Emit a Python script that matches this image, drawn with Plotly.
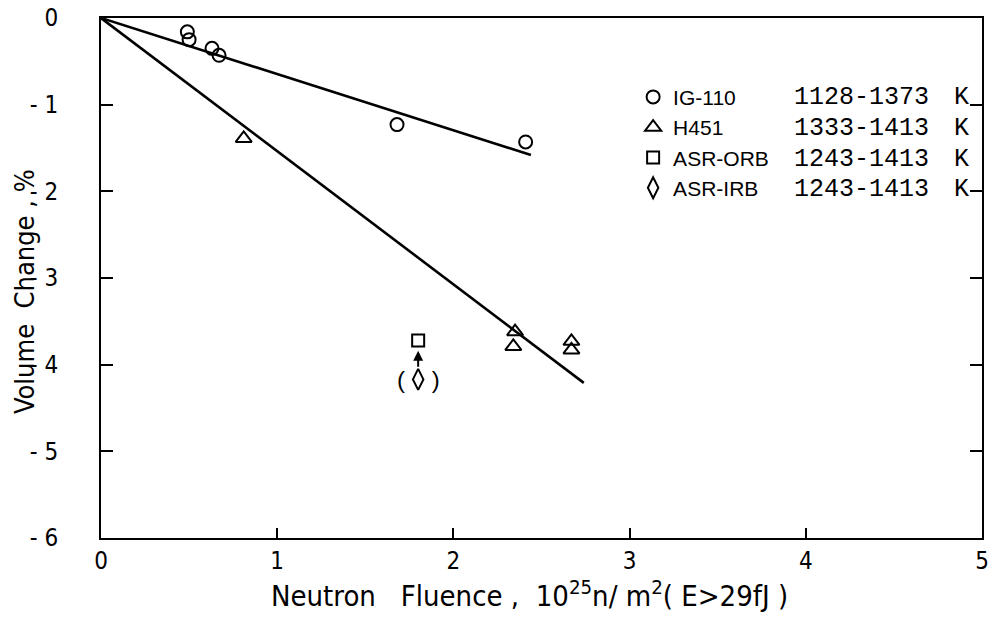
import plotly.graph_objects as go

# ---- data ----
ig_x = [0.49, 0.50, 0.63, 0.67, 1.68, 2.41]
ig_y = [-0.16, -0.25, -0.35, -0.43, -1.23, -1.43]
h_x = [0.81, 2.35, 2.34, 2.67, 2.67]
h_y = [-1.39, -3.62, -3.79, -3.73, -3.83]
orb_x = [1.80]
orb_y = [-3.72]
irb_x = [1.80]
irb_y = [-4.17]
ig_fit_x = [0.0, 2.44]
ig_fit_y = [0.0, -1.58]
h_fit_x = [0.0, 2.74]
h_fit_y = [0.0, -4.21]

series_names = ["IG-110", "H451", "ASR-ORB", "ASR-IRB"]
temp_ranges = ["1128-1373", "1333-1413", "1243-1413", "1243-1413"]

x_ticks = [0, 1, 2, 3, 4, 5]
x_ticktext = ["0", "1", "2", "3", "4", "5"]
y_ticks = [0, -1, -2, -3, -4, -5, -6]
y_ticktext = ["0", "- 1", "- 2", "- 3", "- 4", "- 5", "- 6"]

x_title = "Neutron&nbsp;&nbsp;&nbsp;Fluence&nbsp;,&nbsp;&nbsp;10<sup>25</sup>n/&nbsp;m<sup>2</sup>(&nbsp;E>29fJ&nbsp;)"
y_title = "Volume&nbsp;&nbsp;Change&nbsp;,&nbsp;%"

NARROW = "DejaVu Sans Condensed, Liberation Sans Narrow, DejaVu Sans, sans-serif"
SANS = "Liberation Sans, Arial, sans-serif"
MONO = "Liberation Mono, Courier New, monospace"

fig = go.Figure()

# fit lines
fig.add_trace(go.Scatter(x=ig_fit_x, y=ig_fit_y, mode="lines",
                         line=dict(color="black", width=2.6), showlegend=False))
fig.add_trace(go.Scatter(x=h_fit_x, y=h_fit_y, mode="lines",
                         line=dict(color="black", width=2.6), showlegend=False))

mk_line = dict(color="black", width=2)
fig.add_trace(go.Scatter(x=ig_x, y=ig_y, mode="markers", name=series_names[0],
                         legendgroup="a",
                         marker=dict(symbol="circle-open", size=13, color="black", line=mk_line)))
fig.add_trace(go.Scatter(x=h_x, y=h_y, mode="markers", name=series_names[1],
                         legendgroup="b",
                         marker=dict(symbol="triangle-up-open", size=14, color="black", line=mk_line)))
fig.add_trace(go.Scatter(x=orb_x, y=orb_y, mode="markers", name=series_names[2],
                         legendgroup="c",
                         marker=dict(symbol="square-open", size=12, color="black", line=mk_line)))
fig.add_trace(go.Scatter(x=irb_x, y=irb_y, mode="markers", name=series_names[3],
                         legendgroup="d",
                         marker=dict(symbol="diamond-tall-open", size=15, color="black", line=mk_line)))

annotations = []
# arrow from diamond to square
annotations.append(dict(x=irb_x[0], y=orb_y[0] - 0.12, ax=irb_x[0], ay=irb_y[0] + 0.13,
                        xref="x", yref="y", axref="x", ayref="y", text="",
                        showarrow=True, arrowhead=2, arrowsize=1, arrowwidth=2,
                        arrowcolor="black"))
# parentheses around the diamond
annotations.append(dict(x=irb_x[0], y=irb_y[0], xref="x", yref="y",
                        text="(&nbsp;&nbsp;&nbsp;&nbsp;)", showarrow=False,
                        font=dict(family=SANS, size=24, color="black")))

# temperature column of legend
row_y = [-0.92, -1.27, -1.63, -1.98]
for t, yy in zip(temp_ranges, row_y):
    annotations.append(dict(x=3.92, y=yy, xref="x", yref="y", text=t, showarrow=False,
                            xanchor="left", yanchor="middle",
                            font=dict(family=MONO, size=25, color="black")))
    annotations.append(dict(x=4.83, y=yy, xref="x", yref="y", text="K", showarrow=False,
                            xanchor="left", yanchor="middle",
                            font=dict(family=MONO, size=25, color="black")))

# axis titles
annotations.append(dict(x=0.486, y=-0.108, xref="paper", yref="paper", text=x_title,
                        showarrow=False, xanchor="center", yanchor="middle",
                        font=dict(family=NARROW, size=29, color="black")))
annotations.append(dict(x=-0.0874, y=0.473, xref="paper", yref="paper", text=y_title,
                        showarrow=False, xanchor="center", yanchor="middle", textangle=-90,
                        font=dict(family=NARROW, size=27, color="black")))

fig.update_layout(
    width=999, height=620,
    margin=dict(l=101, r=17, t=18, b=82),
    paper_bgcolor="white", plot_bgcolor="white",
    showlegend=True,
    legend=dict(x=0.604, y=0.887, xanchor="left", yanchor="top",
                bgcolor="rgba(0,0,0,0)", tracegroupgap=0,
                font=dict(family=SANS, size=21, color="black"),
                itemwidth=30),
    annotations=annotations,
    xaxis=dict(range=[0, 5], tickvals=x_ticks, ticktext=x_ticktext,
               automargin=False, ticklabeloverflow="allow",
               showline=True, linecolor="black", linewidth=2, mirror=True,
               ticks="inside", ticklen=10, tickwidth=2, tickcolor="black",
               showgrid=False, zeroline=False,
               tickfont=dict(family=NARROW, size=24, color="black")),
    yaxis=dict(range=[-6, 0], tickvals=y_ticks, ticktext=y_ticktext,
               automargin=False, ticklabeloverflow="allow",
               showline=True, linecolor="black", linewidth=2, mirror="allticks",
               ticks="inside", ticklen=12, tickwidth=2, tickcolor="black",
               showgrid=False, zeroline=False, ticklabelstandoff=36,
               tickfont=dict(family=NARROW, size=24, color="black")),
)

fig.write_html("out.html", config={"displayModeBar": False},
               post_script="document.body.style.margin='0';document.body.style.overflow='hidden';")
